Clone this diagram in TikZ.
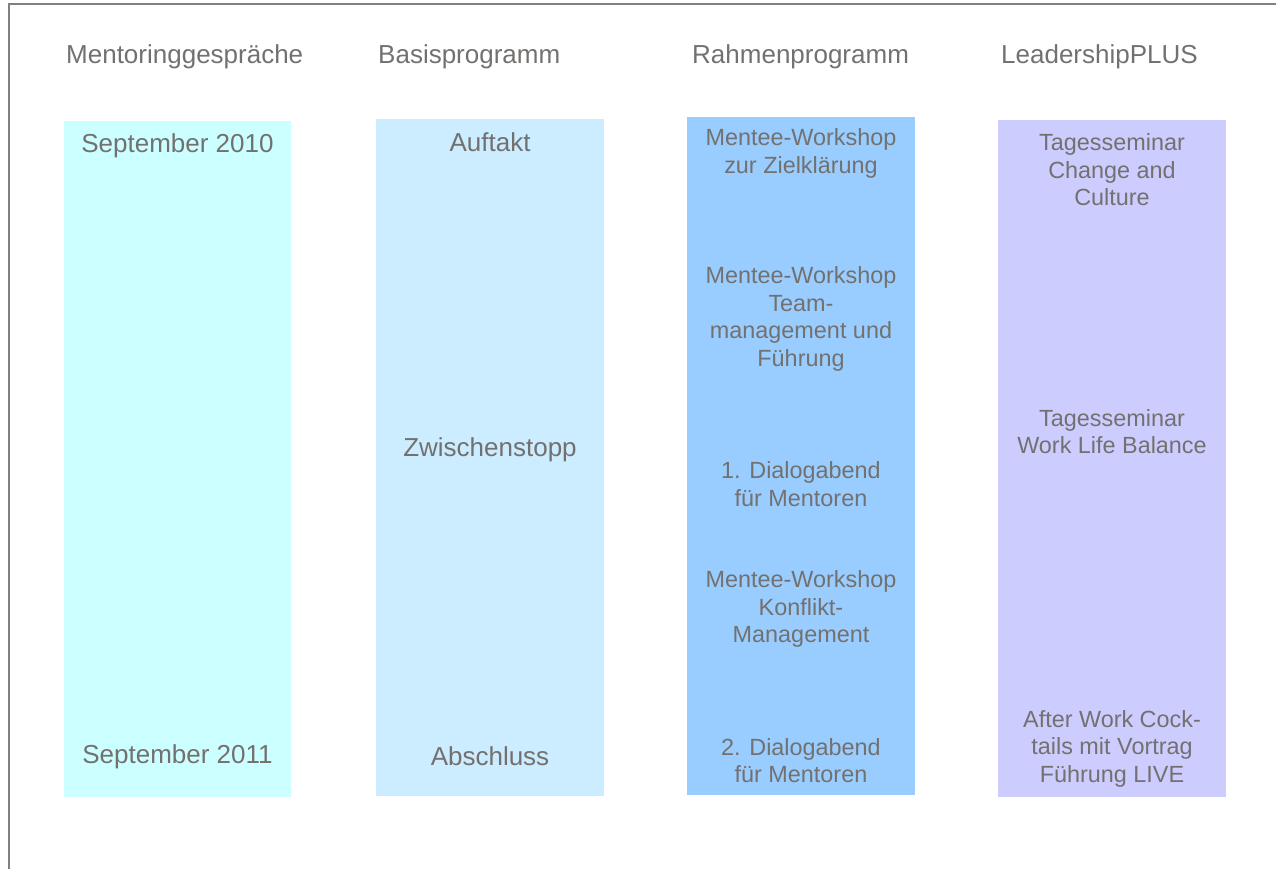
\documentclass[tikz,border=0pt]{standalone}
\usepackage{fontspec}
\setmainfont{Liberation Sans}
\definecolor{txt}{RGB}{115,113,111}
\definecolor{frame}{RGB}{128,128,128}
\definecolor{colA}{RGB}{204,255,255}
\definecolor{colB}{RGB}{204,236,255}
\definecolor{colC}{RGB}{153,204,255}
\definecolor{colD}{RGB}{204,204,255}
\begin{document}
\begin{tikzpicture}[x=1pt,y=-1pt,
  head/.style={anchor=base west,text=txt,inner sep=0pt,font=\fontsize{26}{30}\selectfont},
  big/.style={text=txt,inner sep=0pt,align=center,font=\fontsize{26}{30}\selectfont},
  small/.style={text=txt,inner sep=0pt,align=center,font=\fontsize{23.4}{27.5}\selectfont}]
\useasboundingbox (0,0) rectangle (1276,869);
\draw[frame,line width=2pt] (9,869) -- (9,4) -- (1276,4);
% columns
\fill[colA] (64,121) rectangle (291,797);
\fill[colB] (376,119) rectangle (604,796);
\fill[colC] (687,117) rectangle (915,795);
\fill[colD] (998,120) rectangle (1226,797);
% headers
\node[head] (h1) at (66,64) {Mentoringgespräche};
\node[head] (h2) at (378,64) {Basisprogramm};
\node[head] (h3) at (692,64) {Rahmenprogramm};
\node[head] (h4) at (1001,64) {LeadershipPLUS};
% column 1
\node[big] (a1) at (177.5,146) {September 2010};
\node[big] (a2) at (177.5,757) {September 2011};
% column 2
\node[big] (b1) at (490,142) {Auftakt};
\node[big] (b2) at (490,450) {Zwischenstopp};
\node[big] (b3) at (490,756) {Abschluss};
% column 3
\node[small] (c1) at (801,153.5) {Mentee-Workshop\\zur Zielklärung};
\node[small] (c2) at (801,319) {Mentee-Workshop\\Team-\\management und\\Führung};
\node[small] (c3) at (801,484) {1. Dialogabend\\für Mentoren};
\node[small] (c4) at (801,609) {Mentee-Workshop\\Konflikt-\\Management};
\node[small] (c5) at (801,760.5) {2. Dialogabend\\für Mentoren};
% column 4
\node[small] (d1) at (1112,170) {Tagesseminar\\Change and\\Culture};
\node[small] (d2) at (1112,431.5) {Tagesseminar\\Work Life Balance};
\node[small] (d3) at (1112,748.5) {After Work Cock-\\tails mit Vortrag\\Führung LIVE};
\end{tikzpicture}
\end{document}
